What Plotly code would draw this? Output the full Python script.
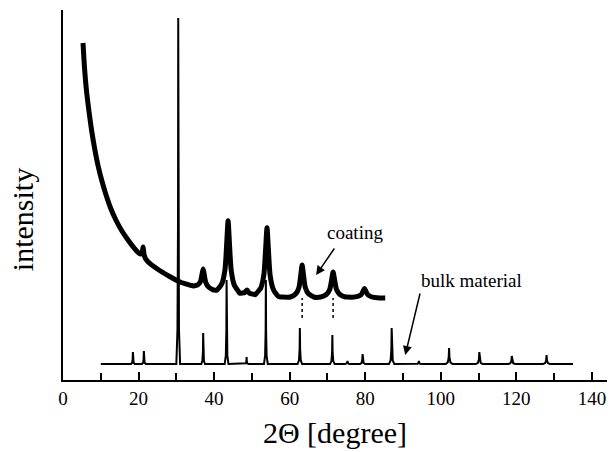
import numpy as np
import plotly.graph_objects as go

# ---- coating pattern: background knots (2θ, intensity) ----
coat_bg_x = [5.3, 5.7, 6.2, 6.9, 7.6, 8.4, 9.3, 10.3, 11.4, 12.6, 14.0, 15.6,
             17.4, 19.5, 22.0, 25.0, 28.0, 31.0, 34.5, 40.0, 46.0, 52.0,
             58.0, 66.0, 75.0, 85.3]
coat_bg_y = [337, 312, 290, 268, 249, 231, 214, 199, 185, 172, 160, 149,
             139, 129, 120, 111, 104, 98, 94, 90, 87, 85,
             83, 83, 83, 82]

# coating reflections: position, height above background, half width
coat_pk_pos = [21.2, 37.1, 43.7, 48.7, 54.0, 63.3, 71.5, 79.8]
coat_pk_hgt = [10, 19, 71, 4, 68, 32, 25, 9]
coat_pk_hw = [0.5, 1.2, 1.4, 1.0, 1.4, 1.4, 1.5, 1.5]

# ---- bulk material pattern ----
bulk_start, bulk_end, bulk_base = 10.0, 135.0, 16
bulk_pk_pos = [18.5, 21.4, 30.5, 37.1, 43.3, 48.6, 53.7, 62.7, 71.3, 75.3,
               79.3, 87.0, 94.2, 102.2, 110.2, 118.8, 128.0]
bulk_pk_hgt = [12, 13, 346, 31, 84, 7, 84, 36, 29, 3,
               10, 36, 3, 16, 12, 8, 9]
bulk_pk_hw = [0.5, 0.5, 0.5, 0.5, 0.5, 0.5, 0.5, 0.6, 0.6, 0.6,
              0.7, 0.7, 0.8, 0.9, 0.9, 0.9, 0.9]

# peak outlines: offsets (in half widths) and relative heights of the corners
coat_dx = [-2.2, -1.2, -0.6, -0.25, 0.0, 0.25, 0.6, 1.2, 2.2]
coat_fy = [0.0, 0.1, 0.3, 0.7, 1.0, 0.7, 0.3, 0.1, 0.0]
bulk_dx = [-1.0, -0.4, -0.12, 0.0, 0.12, 0.4, 1.0]
bulk_fy = [0.0, 0.1, 0.4, 1.0, 0.4, 0.1, 0.0]

x_ticks = [0, 20, 40, 60, 80, 100, 120, 140]


def pattern(base_x, base_y, pos, hgt, hw, dx, fy):
    xs = list(base_x)
    for p, w in zip(pos, hw):
        xs += [p + d * w for d in dx]
    xs = np.array(sorted(set(xs)))
    xs = xs[(xs >= base_x[0]) & (xs <= base_x[-1])]
    ys = np.interp(xs, base_x, base_y)
    for p, h, w in zip(pos, hgt, hw):
        vx = [p + d * w for d in dx]
        vy = [f * h for f in fy]
        ys = ys + np.interp(xs, vx, vy, left=0, right=0)
    return xs, ys


cx, cy = pattern(coat_bg_x, coat_bg_y, coat_pk_pos, coat_pk_hgt, coat_pk_hw,
                 coat_dx, coat_fy)
bx, by = pattern([bulk_start, bulk_end], [bulk_base, bulk_base],
                 bulk_pk_pos, bulk_pk_hgt, bulk_pk_hw, bulk_dx, bulk_fy)

FONT = "Liberation Serif"
fig = go.Figure()
fig.add_trace(go.Scatter(x=bx, y=by, mode="lines",
                         line=dict(color="black", width=2), name="bulk material"))
fig.add_trace(go.Scatter(x=cx, y=cy, mode="lines",
                         line=dict(color="black", width=5, shape="spline",
                                   smoothing=0.7),
                         name="coating"))

# dotted drop marks beneath two coating reflections
for p in [63.3, 71.5]:
    fig.add_trace(go.Scatter(x=[p, p], y=[62, 82], mode="lines",
                             line=dict(color="black", width=1.5, dash="dot"),
                             showlegend=False))

fig.add_annotation(x=67.0, y=105, ax=72.1, ay=133, xref="x", yref="y",
                   axref="x", ayref="y", text="", showarrow=True,
                   arrowhead=2, arrowsize=1.2, arrowwidth=1.5, arrowcolor="black")
fig.add_annotation(x=77.4, y=148, xref="x", yref="y", text="coating",
                   showarrow=False, font=dict(family=FONT, size=19, color="black"))
fig.add_annotation(x=90.6, y=25, ax=94.6, ay=88, xref="x", yref="y",
                   axref="x", ayref="y", text="", showarrow=True,
                   arrowhead=2, arrowsize=1.2, arrowwidth=1.5, arrowcolor="black")
fig.add_annotation(x=108.1, y=100, xref="x", yref="y", text="bulk material",
                   showarrow=False, font=dict(family=FONT, size=19, color="black"))

# vertical axis caption
fig.add_annotation(x=-0.075, y=160, xref="paper", yref="y", text="intensity",
                   textangle=-90, showarrow=False, xanchor="center",
                   yanchor="middle",
                   font=dict(family=FONT, size=30, color="black"))

fig.update_layout(
    width=610, height=452,
    margin=dict(l=63, r=3, t=10, b=72),
    paper_bgcolor="white", plot_bgcolor="white",
    showlegend=False,
    font=dict(family=FONT, color="black"),
    xaxis=dict(range=[0, 144], showline=True, linecolor="black", linewidth=2,
               showgrid=False, zeroline=False, ticks="inside", ticklen=8,
               tickwidth=2, tickcolor="black", tickvals=x_ticks,
               tickfont=dict(family=FONT, size=19, color="black"),
               minor=dict(dtick=10, tick0=0, ticks="inside", ticklen=7,
                          tickwidth=2, tickcolor="black", showgrid=False),
               title=dict(text="2Θ [degree]", standoff=14,
                          font=dict(family=FONT, size=30, color="black"))),
    yaxis=dict(range=[0, 370], showline=True, linecolor="black", linewidth=2,
               showgrid=False, zeroline=False, ticks="", showticklabels=False),
)

fig.write_html("out.html")
